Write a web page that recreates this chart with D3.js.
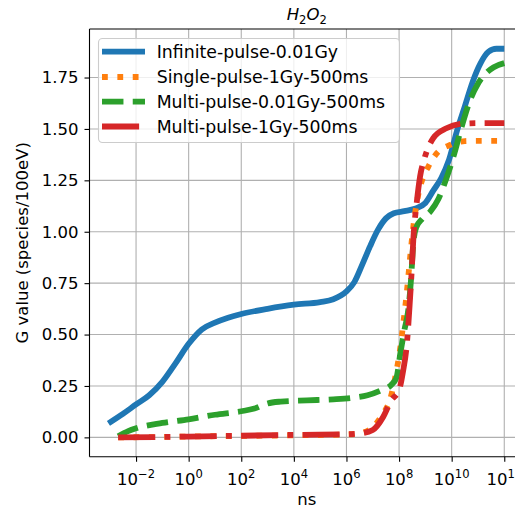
<!DOCTYPE html>
<html>
<head>
<meta charset="utf-8">
<script src="https://cdn.jsdelivr.net/npm/d3@7"></script>
<style>
  html, body { margin: 0; padding: 0; background: #fff; }
  svg { display: block; font-family: "DejaVu Sans", sans-serif; }
</style>
</head>
<body>
<svg id="chart" width="515" height="511"></svg>
<script>
// ---- data (x as log10(ns), y as G value) ----
const seriesNames = ["Infinite-pulse-0.01Gy", "Single-pulse-1Gy-500ms", "Multi-pulse-0.01Gy-500ms", "Multi-pulse-1Gy-500ms"];
const seriesColors = ["#1f77b4", "#ff7f0e", "#2ca02c", "#d62728"];

const infiniteLogT = [-3.05, -2.5, -2.0, -1.5, -1.0, -0.5, 0, 0.5, 1.0, 1.5, 2, 3, 4, 5, 5.5, 6, 6.3, 6.6, 6.9, 7.2, 7.5, 7.8, 8.2, 8.6, 9.0, 9.3, 9.6, 9.9, 10.2, 10.5, 10.8, 11.1, 11.4, 11.7, 12.0];
const infiniteG    = [0.068, 0.114, 0.16, 0.205, 0.27, 0.36, 0.455, 0.525, 0.558, 0.582, 0.60, 0.625, 0.645, 0.658, 0.672, 0.71, 0.755, 0.84, 0.93, 1.01, 1.065, 1.09, 1.10, 1.112, 1.14, 1.20, 1.26, 1.35, 1.49, 1.61, 1.73, 1.82, 1.875, 1.89, 1.89];

const singleLogT = [-2.68, -1, 0, 2, 4, 6, 6.5, 7.0, 7.4, 7.65, 7.85, 8.04, 8.16, 8.29, 8.41, 8.54, 8.73, 8.9, 9.11, 9.43, 9.94, 10.5, 11.0, 12.0];
const singleG    = [0.0, 0.002, 0.004, 0.007, 0.01, 0.014, 0.02, 0.05, 0.117, 0.181, 0.29, 0.43, 0.554, 0.70, 0.862, 1.024, 1.18, 1.26, 1.316, 1.381, 1.422, 1.441, 1.442, 1.442];

const multiLowLogT = [-2.68, -2.3, -2.0, -1.0, 0, 1.0, 2.0, 2.5, 3.0, 3.5, 4.5, 5.5, 6.2, 6.8, 7.3, 7.7, 7.9, 8.05, 8.2, 8.35, 8.45, 8.54, 8.65, 8.9, 9.2, 9.5, 9.8, 10.1, 10.4, 10.7, 11.0, 11.3, 11.6, 12.0];
const multiLowG    = [0.005, 0.03, 0.044, 0.07, 0.088, 0.11, 0.127, 0.14, 0.165, 0.174, 0.18, 0.185, 0.192, 0.205, 0.228, 0.255, 0.29, 0.41, 0.52, 0.62, 0.76, 0.94, 1.02, 1.065, 1.10, 1.16, 1.26, 1.38, 1.52, 1.64, 1.72, 1.77, 1.80, 1.82];

const multiHighLogT = [-2.68, -1, 0, 2, 4, 6, 6.5, 7.0, 7.4, 7.7, 8.0, 8.15, 8.3, 8.4, 8.48, 8.55, 8.67, 8.8, 8.95, 9.3, 9.8, 10.4, 11.0, 12.0];
const multiHighG    = [0.0, 0.002, 0.004, 0.008, 0.012, 0.015, 0.019, 0.036, 0.10, 0.18, 0.23, 0.32, 0.46, 0.64, 0.81, 0.98, 1.14, 1.27, 1.35, 1.455, 1.503, 1.525, 1.528, 1.528];

const xTickExps = [-2, 0, 2, 4, 6, 8, 10, 12];
const yTicks = [0, 0.25, 0.5, 0.75, 1.0, 1.25, 1.5, 1.75];

const seriesLogT = [infiniteLogT, singleLogT, multiLowLogT, multiHighLogT];
const seriesG = [infiniteG, singleG, multiLowG, multiHighG];

// ---- layout ----
const lw = 5.8;
const dashes = [null, [1 * lw, 1.65 * lw], [3.7 * lw, 1.6 * lw], [6.4 * lw, 1.6 * lw, 1 * lw, 1.6 * lw]];
const mLeft = 89.5, mRight = 524, mTop = 29, mBottom = 456.7;
const fs = 16.5;

const svg = d3.select("#chart");
const x = d3.scaleLog().domain([Math.pow(10, -3.77), Math.pow(10, 12.75)]).range([mLeft, mRight]);
const y = d3.scaleLinear().domain([-0.094, 1.986]).range([mBottom, mTop]);

const defs = svg.append("defs");
defs.append("clipPath").attr("id", "clip").append("rect")
  .attr("x", mLeft).attr("y", mTop).attr("width", mRight - mLeft).attr("height", mBottom - mTop);

// grid
const grid = svg.append("g");
grid.selectAll("line.vx").data(xTickExps).enter().append("line")
  .attr("x1", d => x(Math.pow(10, d))).attr("x2", d => x(Math.pow(10, d)))
  .attr("y1", mTop).attr("y2", mBottom)
  .attr("stroke", "#b0b0b0").attr("stroke-width", 1.1);
grid.selectAll("line.hy").data(yTicks).enter().append("line")
  .attr("y1", d => y(d)).attr("y2", d => y(d))
  .attr("x1", mLeft).attr("x2", mRight)
  .attr("stroke", "#b0b0b0").attr("stroke-width", 1.1);

// lines
const line = d3.line()
  .x(d => x(Math.pow(10, d[0])))
  .y(d => y(d[1]))
  .curve(d3.curveMonotoneX);

const plot = svg.append("g").attr("clip-path", "url(#clip)");
seriesNames.forEach((name, i) => {
  const pts = seriesLogT[i].map((t, j) => [t, seriesG[i][j]]);
  plot.append("path")
    .attr("d", line(pts))
    .attr("fill", "none")
    .attr("stroke", seriesColors[i])
    .attr("stroke-width", lw)
    .attr("stroke-dasharray", dashes[i] ? dashes[i].join(",") : null)
    .attr("stroke-linecap", "butt")
    .attr("stroke-linejoin", "round");
});

// axes
const xAxis = d3.axisBottom(x).tickValues(xTickExps.map(e => Math.pow(10, e))).tickFormat("").tickSizeOuter(0).tickSize(5);
const gx = svg.append("g").attr("transform", `translate(0,${mBottom})`).call(xAxis);
gx.select(".domain").remove();
gx.selectAll(".tick line").attr("stroke", "#000").attr("stroke-width", 1.1);

const xl = svg.append("g");
xTickExps.forEach(e => {
  const t = xl.append("text")
    .attr("x", x(Math.pow(10, e))).attr("y", 485)
    .attr("text-anchor", "middle")
    .attr("font-size", fs).attr("fill", "#000");
  t.append("tspan").text("10");
  t.append("tspan").attr("dy", -7).attr("font-size", fs * 0.7).text(e < 0 ? "\u2212" + (-e) : String(e));
});

const yAxis = d3.axisLeft(y).tickValues(yTicks).tickFormat(d3.format(".2f")).tickSizeOuter(0).tickSize(5).tickPadding(6);
const gy = svg.append("g").attr("transform", `translate(${mLeft},0)`).call(yAxis);
gy.select(".domain").remove();
gy.selectAll(".tick line").attr("stroke", "#000").attr("stroke-width", 1.1);
gy.selectAll(".tick text").attr("font-size", fs).attr("font-family", "DejaVu Sans").attr("fill", "#000");

// spines
[[mLeft, mTop, mLeft, mBottom], [mLeft, mBottom, mRight, mBottom], [mLeft, mTop, mRight, mTop], [mRight, mTop, mRight, mBottom]].forEach(s => {
  svg.append("line").attr("x1", s[0]).attr("y1", s[1]).attr("x2", s[2]).attr("y2", s[3])
    .attr("stroke", "#000").attr("stroke-width", 1.1);
});

// axis labels
svg.append("text").attr("x", (mLeft + mRight) / 2).attr("y", 505)
  .attr("text-anchor", "middle").attr("font-size", fs).text("ns");
svg.append("text").attr("transform", `translate(28,${(mTop + mBottom) / 2}) rotate(-90)`)
  .attr("text-anchor", "middle").attr("font-size", fs).text("G value (species/100eV)");

// title
const title = svg.append("text").attr("x", (mLeft + mRight) / 2).attr("y", 20)
  .attr("text-anchor", "middle").attr("font-size", fs).attr("font-style", "italic");
title.append("tspan").text("H");
title.append("tspan").attr("dy", 4).attr("font-size", fs * 0.7).attr("font-style", "normal").text("2");
title.append("tspan").attr("dy", -4).text("O");
title.append("tspan").attr("dy", 4).attr("font-size", fs * 0.7).attr("font-style", "normal").text("2");

// legend
const lg = svg.append("g");
lg.append("rect").attr("x", 98.5).attr("y", 38.5).attr("width", 301).attr("height", 104)
  .attr("rx", 4).attr("fill", "#fff").attr("fill-opacity", 0.8)
  .attr("stroke", "#cccccc").attr("stroke-width", 1.1);
const rowY = [51.7, 77, 101.7, 126.5];
seriesNames.forEach((name, i) => {
  lg.append("line").attr("x1", 102).attr("x2", 145).attr("y1", rowY[i]).attr("y2", rowY[i])
    .attr("stroke", seriesColors[i]).attr("stroke-width", lw)
    .attr("stroke-dasharray", dashes[i] ? dashes[i].join(",") : null);
  lg.append("text").attr("x", 156.7).attr("y", rowY[i] + 6).attr("font-size", fs * 1.05).attr("fill", "#000").text(name);
});
</script>
</body>
</html>
